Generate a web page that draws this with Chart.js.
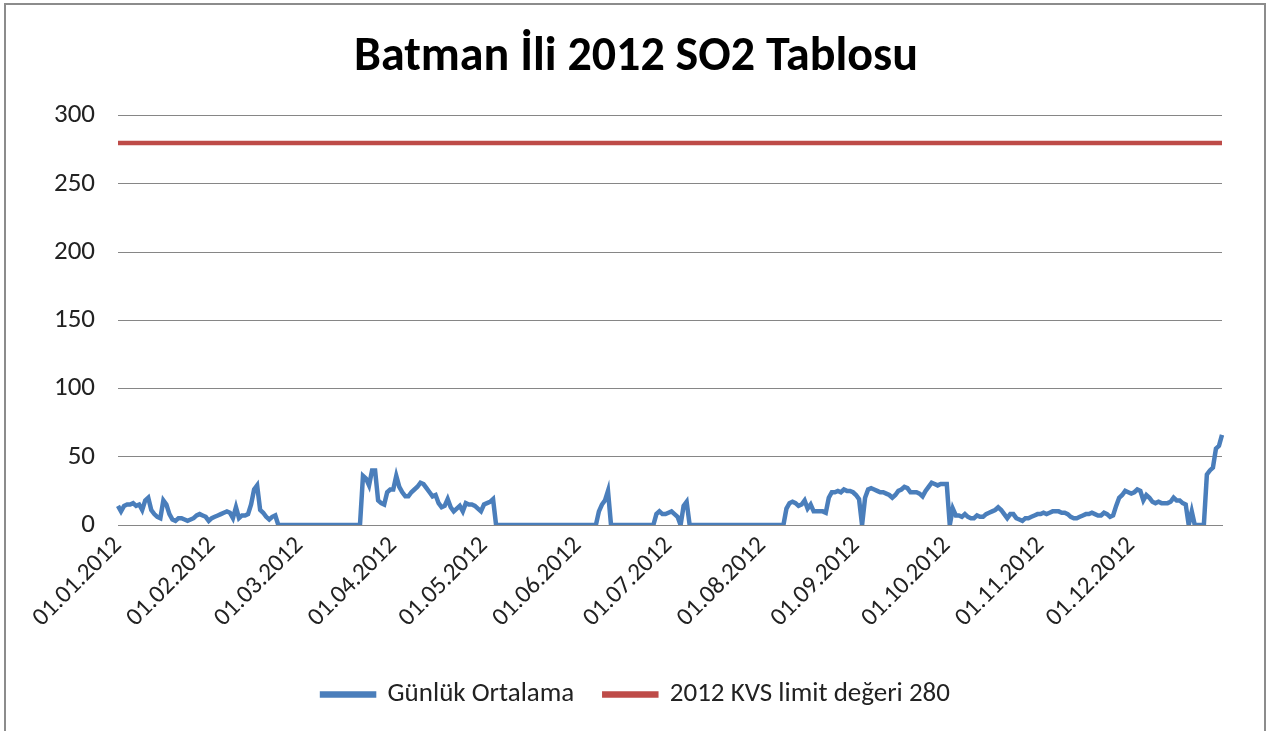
<!DOCTYPE html>
<html>
<head>
<meta charset="utf-8">
<script src="https://cdn.jsdelivr.net/npm/chart.js@4.4.0/dist/chart.umd.min.js"></script>
<style>
    body { margin: 0; background: #fff; }
    #frame { position: absolute; left: 4px; top: 3px; width: 1258px; height: 760px; border: 2px solid #8c8c8c; }
    #wrap { position: absolute; left: 0; top: 0; width: 1272px; height: 731px; }
</style>
</head>
<body>
<div id="frame"></div>
<div id="wrap"><canvas id="myChart"></canvas></div>
<script>
const jan = [14, 10, 14, 15, 15, 16, 14, 15, 11, 18, 20, 11, 8, 6, 5, 18, 15, 8, 4, 3, 5, 5, 4, 3, 4, 5, 7, 8, 7, 6, 3];
const feb = [5, 6, 7, 8, 9, 10, 9, 5, 13, 5, 7, 7, 8, 15, 26, 29, 11, 9, 6, 4, 6, 7, 0, 0, 0, 0, 0, 0, 0];
const mar = [0, 0, 0, 0, 0, 0, 0, 0, 0, 0, 0, 0, 0, 0, 0, 0, 0, 0, 0, 0, 0, 36, 34, 29, 40, 40, 18, 16, 15, 24, 26];
const apr = [26, 36, 28, 24, 21, 21, 24, 26, 28, 31, 30, 27, 24, 21, 22, 16, 13, 14, 19, 13, 10, 12, 14, 10, 16, 15, 15, 14, 12, 10];
const may = [15, 16, 17, 19, 0, 0, 0, 0, 0, 0, 0, 0, 0, 0, 0, 0, 0, 0, 0, 0, 0, 0, 0, 0, 0, 0, 0, 0, 0, 0, 0];
const jun = [0, 0, 0, 0, 0, 0, 0, 10, 15, 18, 25, 0, 0, 0, 0, 0, 0, 0, 0, 0, 0, 0, 0, 0, 0, 0, 8, 10, 8, 8];
const jul = [9, 10, 8, 6, 0, 14, 17, 0, 0, 0, 0, 0, 0, 0, 0, 0, 0, 0, 0, 0, 0, 0, 0, 0, 0, 0, 0, 0, 0, 0, 0];
const aug = [0, 0, 0, 0, 0, 0, 0, 0, 12, 16, 17, 16, 14, 15, 18, 12, 15, 10, 10, 10, 10, 9, 20, 24, 24, 25, 24, 26, 25, 25, 24];
const sep = [22, 19, 0, 20, 26, 27, 26, 25, 24, 24, 23, 22, 20, 22, 25, 26, 28, 27, 24, 24, 24, 23, 21, 25, 28, 31, 30, 29, 30, 30];
const oct = [30, 0, 12, 7, 7, 6, 8, 6, 5, 5, 7, 6, 6, 8, 9, 10, 11, 13, 11, 8, 5, 8, 8, 5, 4, 3, 5, 5, 6, 7, 8];
const nov = [8, 9, 8, 9, 10, 10, 10, 9, 9, 8, 6, 5, 5, 6, 7, 8, 8, 9, 8, 7, 7, 9, 8, 6, 7, 14, 20, 22, 25, 24];
const dec = [23, 24, 26, 25, 18, 22, 20, 17, 16, 17, 16, 16, 16, 17, 20, 18, 18, 16, 15, 0, 10, 0, 0, 0, 0, 37, 40, 42, 56, 58, 66];

const LIMIT = 280;
const yTicks = [0, 50, 100, 150, 200, 250, 300];

const dailyAvg = [].concat(jan, feb, mar, apr, may, jun, jul, aug, sep, oct, nov, dec);

// dd.mm.2012 labels, one per day
const days = [];
for (let i = 0; i < dailyAvg.length; i++) {
    const d = new Date(2012, 0, 1 + i);
    const dd = String(d.getDate()).padStart(2, "0");
    const mm = String(d.getMonth() + 1).padStart(2, "0");
    days.push(dd + "." + mm + ".2012");
}
const limitLine = days.map(() => LIMIT);

const FONT = "Carlito, 'Liberation Sans', Arial, sans-serif";

const ctx = document.getElementById("myChart");
new Chart(ctx, {
    type: "line",
    data: {
        labels: days,
        datasets: [
            {
                label: "Günlük Ortalama",
                data: dailyAvg,
                borderColor: "#4a7ebb",
                backgroundColor: "#4a7ebb",
                borderWidth: 4.5,
                pointRadius: 0,
                tension: 0,
            },
            {
                label: "2012 KVS limit değeri 280",
                data: limitLine,
                borderColor: "#be4b48",
                backgroundColor: "#be4b48",
                borderWidth: 4.5,
                pointRadius: 0,
            },
        ],
    },
    options: {
        responsive: true,
        maintainAspectRatio: false,
        animation: false,
        layout: { padding: { left: 0, right: 0, top: 0, bottom: 13 } },
        plugins: {
            title: {
                display: true,
                text: "Batman İli 2012 SO2 Tablosu",
                color: "#000",
                font: { family: FONT, size: 48, weight: "bold" },
                padding: { top: 29, bottom: 29 },
            },
            legend: {
                position: "bottom",
                labels: {
                    color: "#222",
                    font: { family: FONT, size: 27 },
                    boxWidth: 52,
                    boxHeight: 2,
                    padding: 30,
                },
            },
            tooltip: { enabled: false },
        },
        scales: {
            x: {
                grid: { display: false, drawTicks: false },
                border: { color: "#868686", width: 1 },
                ticks: {
                    autoSkip: false,
                    minRotation: 45,
                    maxRotation: 45,
                    color: "#222",
                    font: { family: FONT, size: 25 },
                    padding: 6,
                    callback: function (v, i) {
                        const l = days[i];
                        return l.startsWith("01.") ? l : null;
                    },
                },
                afterFit: (s) => { s.height = 126; },
            },
            y: {
                min: 0,
                max: 300,
                afterBuildTicks: (s) => { s.ticks = yTicks.map((v) => ({ value: v })); },
                ticks: { color: "#222", font: { family: FONT, size: 27 }, padding: 23 },
                grid: { color: "#868686", drawTicks: false },
                border: { display: false },
                afterFit: (s) => { s.width = 118; },
            },
            // empty right-hand gutter, keeps title and legend centred on the page
            yRight: {
                position: "right",
                grid: { display: false, drawTicks: false },
                border: { display: false },
                ticks: { display: false },
                afterFit: (s) => { s.width = 50; },
            },
        },
    },
});
</script>
</body>
</html>
